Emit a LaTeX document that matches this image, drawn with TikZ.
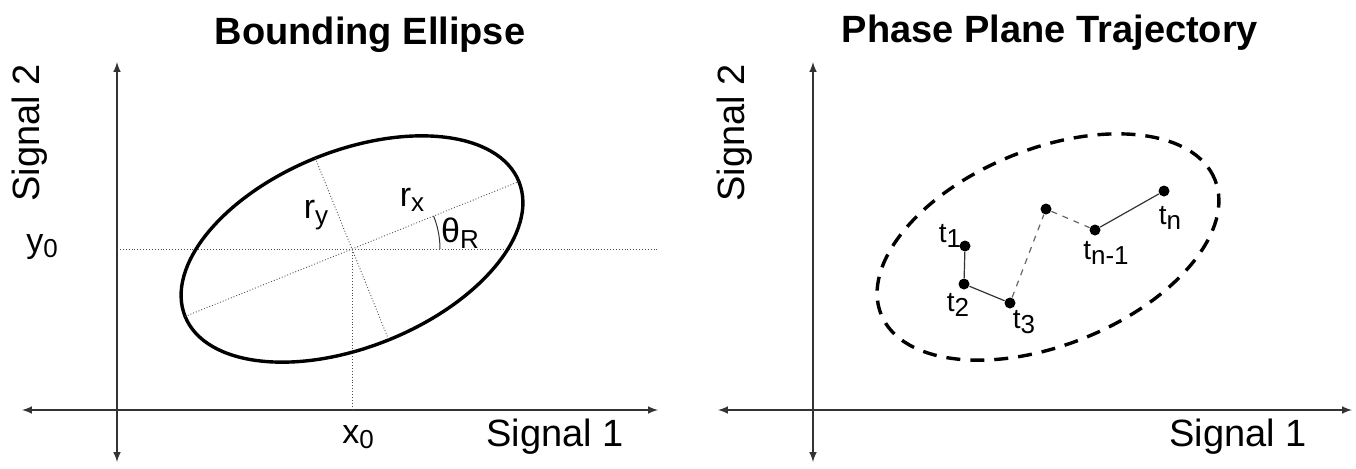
\documentclass[tikz,border=0pt]{standalone}
\usepackage{fontspec}
\setmainfont{Liberation Sans}
\usepackage{tikz}
\usetikzlibrary{calc, positioning}

\newcommand{\lowsub}[1]{\raisebox{-0.3ex}{\fontsize{13}{14}\selectfont #1}}

\begin{document}
\begin{tikzpicture}[>=latex, x=0.5pt, y=0.5pt,
    axis/.style={<->, draw=black!80, line width=0.7pt},
    guide/.style={densely dotted, draw=black!70, line width=0.45pt},
    title/.style={font=\fontsize{19}{22}\selectfont\bfseries},
    signal/.style={font=\fontsize{19}{22}\selectfont},
    lbl/.style={font=\fontsize{14}{16}\selectfont, inner sep=1pt},
    dot/.style={circle, fill=black, inner sep=0pt, minimum size=5.5pt},
    link/.style={draw=black!80, line width=0.6pt},
    gap/.style={link, dashed, draw=black!60}]
    \useasboundingbox (0,0) rectangle (1356,468);

    % 1. Bounding ellipse
    \draw[axis] (22,58) -- (658,58);
    \draw[axis] (117,6) -- (117,406);
    \coordinate (c) at (352,219);
    \draw[guide] (117,219) -- (658,219);
    \draw[guide] (c) -- (352,58);
    \draw[black, line width=1.7pt, rotate around={22:(c)}] (c) ellipse (180 and 98);
    \draw[guide] ($(c)+(202:180)$) -- ($(c)+(22:180)$);
    \draw[guide] ($(c)+(112:98)$) -- ($(c)+(292:98)$);
    \draw[black!80, line width=0.5pt] ($(c)+(0:88)$) arc (0:22:88);

    \node[title] (ttlA) at (370,433) {Bounding Ellipse};
    \node[signal, rotate=90] (sigA2) at (30,335) {Signal 2};
    \node[signal] (sigA1) at (555,31) {Signal 1};
    \node[lbl] (rx) at (412,268) {\fontsize{17}{18}\selectfont r\lowsub{x}};
    \node[lbl] (ry) at (316,253) {\fontsize{17}{18}\selectfont r\lowsub{y}};
    \node[lbl] (th) at (460,235) {\fontsize{17}{18}\selectfont θ\lowsub{R}};
    \node[lbl] (x0) at (358,31) {\fontsize{17}{18}\selectfont x\lowsub{0}};
    \node[lbl] (y0) at (42,221) {\fontsize{17}{18}\selectfont y\lowsub{0}};

    % 2. Phase plane trajectory
    \draw[axis] (718,58) -- (1352,58);
    \draw[axis] (813,6) -- (813,406);
    \coordinate (d) at (1048,221);
    \draw[black, line width=1.7pt, dash pattern=on 7pt off 5pt,
        rotate around={22:(d)}] (d) ellipse (180 and 98);

    \node[title] (ttlB) at (1050,435) {Phase Plane Trajectory};
    \node[signal, rotate=90] (sigB2) at (735,335) {Signal 2};
    \node[signal] (sigB1) at (1238,31) {Signal 1};

    \node[dot] (p1) at (965,222) {};
    \node[dot] (p2) at (964,184) {};
    \node[dot] (p3) at (1010,165) {};
    \node[dot] (pm) at (1046,259) {};
    \node[dot] (pk) at (1095,238) {};
    \node[dot] (pn) at (1164,277) {};
    \draw[link] (p1) -- (p2) -- (p3);
    \draw[gap] (p3) -- (pm) -- (pk);
    \draw[link] (pk) -- (pn);

    \node[lbl] (t1) at (950,232) {t\lowsub{1}};
    \node[lbl] (t2) at (958,163) {t\lowsub{2}};
    \node[lbl] (t3) at (1024,146) {t\lowsub{3}};
    \node[lbl] (tk) at (1106,215) {t\lowsub{n-1}};
    \node[lbl] (tn) at (1170,250) {t\lowsub{n}};
\end{tikzpicture}
\end{document}
